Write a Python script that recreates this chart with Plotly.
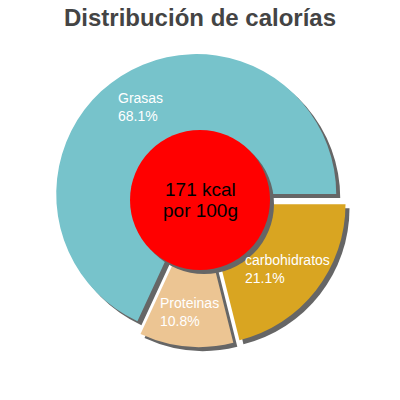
import math
import plotly.graph_objects as go

# data
labels = ["Grasas", "Proteínas", "carbohidratos"]
shown_labels = ["Grasas", "Proteinas", "carbohidratos"]
values = [68.1, 10.8, 21.1]
colors = ["#77c3cb", "#ecc593", "#d9a521"]
center_lines = ["171 kcal", "por 100g"]
title = "Distribución de calorías"

PULL = 0.05
W = H = 400
cx = 200 / W                 # pie centre in paper coords
cy = 1 - 200 / H
half = 0.3675                # half size of pie domain
shadow_dx, shadow_dy = 4 / W, 4 / H
FONT = "Liberation Sans, Arial"

total = sum(values)
# first slice (Grasas) starts at 3 o'clock and runs counterclockwise
rotation = 90 - 360 * values[0] / total

fig = go.Figure()

# shadow pie
fig.add_trace(go.Pie(
    labels=labels, values=values, sort=False, direction="counterclockwise",
    rotation=rotation, pull=PULL, textinfo="none", hoverinfo="skip",
    marker=dict(colors=["#666666"] * len(values), line=dict(width=0)),
    domain=dict(x=[cx - half + shadow_dx, cx + half + shadow_dx],
                y=[cy - half - shadow_dy, cy + half - shadow_dy]),
    showlegend=False,
))

# main pie
fig.add_trace(go.Pie(
    labels=labels, values=values, sort=False, direction="counterclockwise",
    rotation=rotation, pull=PULL, textinfo="none",
    marker=dict(colors=colors, line=dict(width=0)),
    domain=dict(x=[cx - half, cx + half], y=[cy - half, cy + half]),
    showlegend=False,
))

# slice labels: block centred on the mid angle of each slice
start = 0.0
R = 111 / W
for name, v in zip(shown_labels, values):
    mid = (start + v / 2) / total * 2 * math.pi
    start += v
    fig.add_annotation(
        x=cx + R * math.cos(mid), y=cy + R * math.sin(mid) - 1 / H,
        xref="paper", yref="paper", xanchor="center", yanchor="middle",
        text=f"{name}<br>{v:.1f}%", showarrow=False, align="left",
        font=dict(family=FONT, size=14, color="white"),
    )

# red centre disc with shadow
r_in = 70 / W
fig.add_shape(type="circle", xref="paper", yref="paper",
              x0=cx - r_in + shadow_dx, x1=cx + r_in + shadow_dx,
              y0=cy - r_in - shadow_dy, y1=cy + r_in - shadow_dy,
              fillcolor="#666666", line=dict(width=0))
fig.add_shape(type="circle", xref="paper", yref="paper",
              x0=cx - r_in, x1=cx + r_in, y0=cy - r_in, y1=cy + r_in,
              fillcolor="#ff0000", line=dict(width=0))
for txt, dy in zip(center_lines, (11 / H, -10 / H)):
    fig.add_annotation(x=cx, y=cy + dy, xref="paper", yref="paper", text=txt,
                       showarrow=False, yanchor="middle",
                       font=dict(family=FONT, size=19, color="black"))

fig.update_layout(
    width=W, height=H,
    margin=dict(l=0, r=0, t=0, b=0),
    paper_bgcolor="white", plot_bgcolor="white",
    title=dict(text=title, x=cx, xanchor="center", y=1 - 18 / H,
               yanchor="middle",
               font=dict(family=FONT, size=24, color="#444444", weight="bold")),
)

# drop the default page margin so the 400x400 figure fills the window
fig.write_html("out.html", config={"displayModeBar": False},
               post_script="document.body.style.margin='0';")
